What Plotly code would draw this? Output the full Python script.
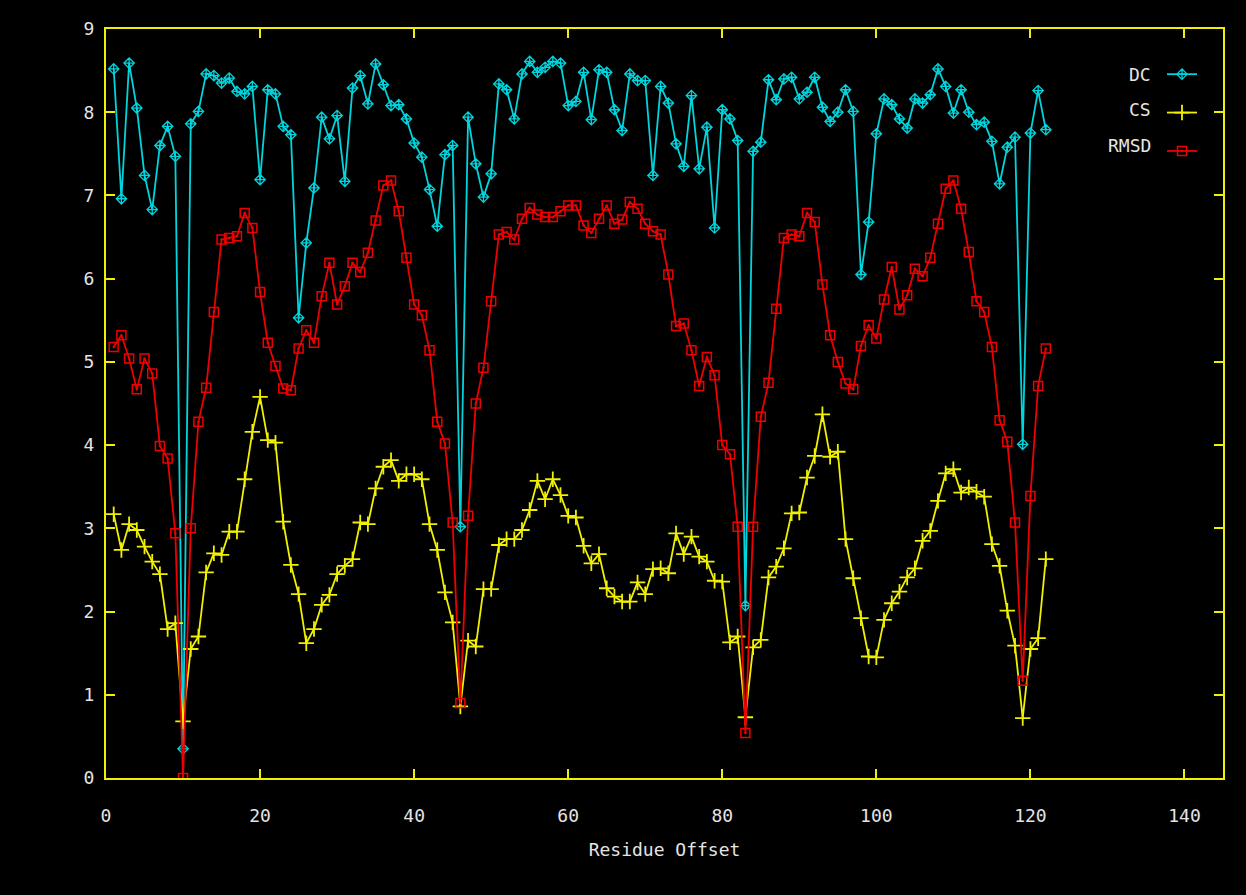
import plotly.graph_objects as go

residue = list(range(1, 123))

dc = [8.52, 6.96, 8.59, 8.05, 7.24, 6.83, 7.60, 7.83, 7.47, 0.35,
      7.86, 8.01, 8.46, 8.44, 8.35, 8.41, 8.25, 8.22, 8.31, 7.19,
      8.27, 8.22, 7.83, 7.73, 5.53, 6.43, 7.09, 7.94, 7.68, 7.96,
      7.17, 8.29, 8.44, 8.10, 8.58, 8.33, 8.08, 8.09, 7.92, 7.63,
      7.46, 7.07, 6.63, 7.49, 7.60, 3.02, 7.94, 7.38, 6.98, 7.26,
      8.34, 8.27, 7.92, 8.46, 8.61, 8.48, 8.54, 8.61, 8.59, 8.08,
      8.13, 8.48, 7.91, 8.51, 8.48, 8.03, 7.78, 8.46, 8.38, 8.38,
      7.24, 8.31, 8.11, 7.62, 7.35, 8.20, 7.32, 7.82, 6.61, 8.03,
      7.92, 7.66, 2.07, 7.53, 7.64, 8.39, 8.15, 8.40, 8.42, 8.16,
      8.24, 8.42, 8.06, 7.89, 8.00, 8.27, 8.01, 6.05, 6.68, 7.74,
      8.16, 8.09, 7.92, 7.81, 8.16, 8.11, 8.21, 8.52, 8.31, 7.99,
      8.27, 8.00, 7.85, 7.88, 7.65, 7.14, 7.58, 7.70, 4.01, 7.75,
      8.26, 7.79]

cs = [3.17, 2.74, 3.05, 2.98, 2.78, 2.60, 2.45, 1.79, 1.86, 0.68,
      1.55, 1.70, 2.47, 2.70, 2.68, 2.96, 2.96, 3.59, 4.16, 4.58,
      4.06, 4.03, 3.08, 2.56, 2.21, 1.62, 1.79, 2.08, 2.20, 2.45,
      2.55, 2.63, 3.07, 3.05, 3.48, 3.74, 3.82, 3.57, 3.65, 3.65,
      3.59, 3.05, 2.74, 2.23, 1.87, 0.86, 1.65, 1.58, 2.27, 2.27,
      2.80, 2.87, 2.87, 2.98, 3.22, 3.57, 3.35, 3.59, 3.40, 3.15,
      3.13, 2.79, 2.58, 2.69, 2.28, 2.18, 2.12, 2.12, 2.35, 2.21,
      2.51, 2.52, 2.46, 2.94, 2.69, 2.90, 2.66, 2.60, 2.37, 2.36,
      1.63, 1.70, 0.73, 1.57, 1.66, 2.41, 2.54, 2.76, 3.18, 3.19,
      3.61, 3.87, 4.37, 3.86, 3.92, 2.87, 2.40, 1.92, 1.46, 1.45,
      1.90, 2.10, 2.24, 2.41, 2.52, 2.85, 2.97, 3.33, 3.66, 3.71,
      3.43, 3.49, 3.44, 3.38, 2.81, 2.55, 2.01, 1.59, 0.72, 1.55,
      1.68, 2.63]

rmsd = [5.18, 5.32, 5.04, 4.67, 5.04, 4.86, 3.99, 3.84, 2.94, 0.00,
        3.00, 4.28, 4.69, 5.60, 6.47, 6.49, 6.51, 6.79, 6.61, 5.84,
        5.23, 4.95, 4.68, 4.66, 5.16, 5.38, 5.23, 5.79, 6.19, 5.69,
        5.91, 6.19, 6.08, 6.31, 6.70, 7.12, 7.18, 6.81, 6.25, 5.69,
        5.56, 5.14, 4.28, 4.02, 3.07, 0.90, 3.15, 4.50, 4.93, 5.73,
        6.53, 6.56, 6.47, 6.72, 6.85, 6.77, 6.74, 6.74, 6.81, 6.88,
        6.88, 6.64, 6.55, 6.72, 6.88, 6.66, 6.71, 6.92, 6.84, 6.66,
        6.57, 6.53, 6.05, 5.43, 5.46, 5.14, 4.71, 5.06, 4.84, 4.00,
        3.89, 3.02, 0.54, 3.02, 4.34, 4.75, 5.64, 6.49, 6.53, 6.51,
        6.79, 6.68, 5.93, 5.32, 5.00, 4.74, 4.67, 5.19, 5.44, 5.28,
        5.75, 6.14, 5.63, 5.80, 6.12, 6.03, 6.25, 6.66, 7.08, 7.18,
        6.84, 6.32, 5.73, 5.60, 5.18, 4.30, 4.04, 3.07, 1.17, 3.39,
        4.71, 5.16]

series_names = ["DC", "CS", "RMSD"]
x_ticks = [0, 20, 40, 60, 80, 100, 120, 140]
y_ticks = [0, 1, 2, 3, 4, 5, 6, 7, 8, 9]

FONT = "DejaVu Sans Mono"
FS = 18
TXT = "#e4e4e4"
YEL = "#f0f000"
CYAN = "#00d4dc"
RED = "#ee0000"

fig = go.Figure()
fig.add_trace(go.Scatter(x=residue, y=dc, name=series_names[0], mode="lines+markers",
                         line=dict(color=CYAN, width=1.8),
                         marker=dict(symbol="diamond-cross-open", size=8,
                                     color=CYAN, line=dict(width=1.3)),
                         legendgroup="a"))
fig.add_trace(go.Scatter(x=residue, y=cs, name=series_names[1], mode="lines+markers",
                         line=dict(color=YEL, width=1.8),
                         marker=dict(symbol="cross-thin-open", size=11,
                                     color=YEL, line=dict(width=1.8, color=YEL)),
                         legendgroup="b"))
fig.add_trace(go.Scatter(x=residue, y=rmsd, name=series_names[2], mode="lines+markers",
                         line=dict(color=RED, width=1.8),
                         marker=dict(symbol="square-open-dot", size=9,
                                     color=RED, line=dict(width=1.5)),
                         legendgroup="c"))

axis_common = dict(showline=True, linecolor=YEL, linewidth=2, mirror="ticks",
                   ticks="inside", ticklen=9, tickwidth=2, tickcolor=YEL,
                   showgrid=False, zeroline=False,
                   tickfont=dict(family=FONT, size=FS, color=TXT))

fig.update_xaxes(range=[0, 145], tickvals=x_ticks, ticklabelstandoff=20,
                 title=dict(text="Residue Offset", standoff=19,
                            font=dict(family=FONT, size=FS, color=TXT)),
                 **axis_common)
fig.update_yaxes(range=[0, 9], tickvals=y_ticks, ticklabelstandoff=6, **axis_common)

# legend: symbols from the native legend, labels placed to their left (gnuplot style)
label_y = [0.9399, 0.8919, 0.8451]
for name, yy in zip(series_names, label_y):
    fig.add_annotation(text=name, xref="paper", yref="paper", x=0.9373, y=yy,
                       xanchor="right", yanchor="middle", showarrow=False,
                       font=dict(family=FONT, size=FS, color=TXT))

fig.update_layout(
    width=1246, height=895,
    margin=dict(l=106, r=23, t=29, b=117, autoexpand=False),
    paper_bgcolor="black", plot_bgcolor="black",
    showlegend=True,
    legend=dict(x=0.9454, y=0.964, xanchor="left", yanchor="top",
                bgcolor="rgba(0,0,0,0)", tracegroupgap=12, itemwidth=30,
                font=dict(family=FONT, size=FS, color="rgba(0,0,0,0)")),
)

fig.write_html("out.html")
